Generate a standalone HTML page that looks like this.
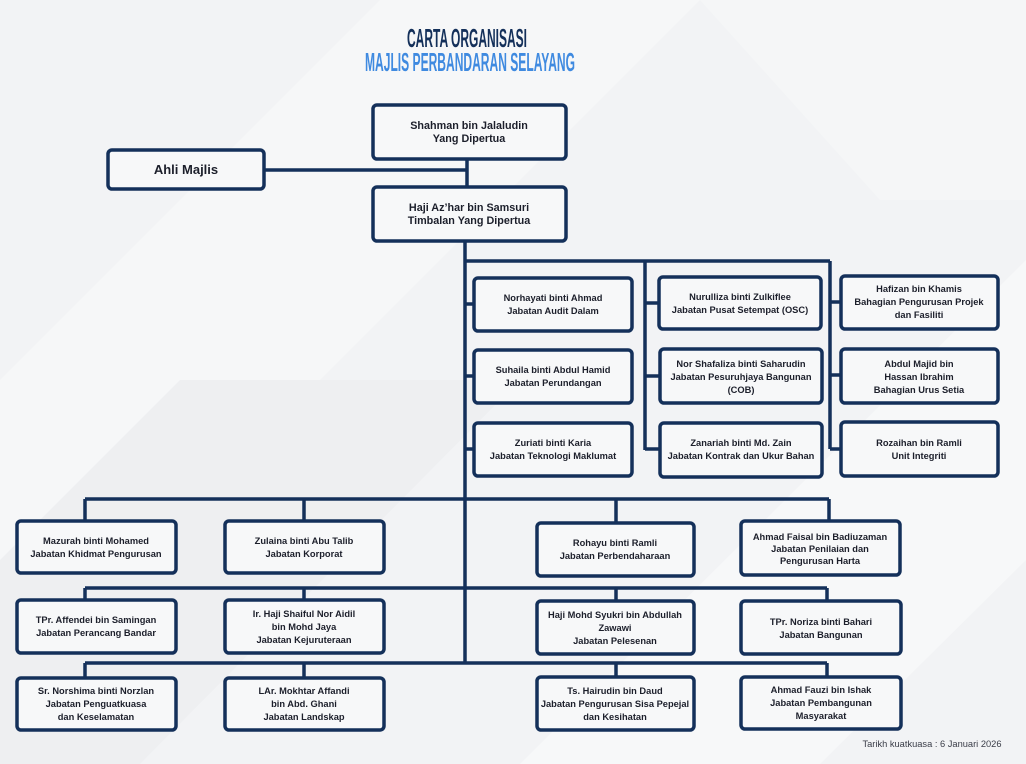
<!DOCTYPE html>
<html><head><meta charset="utf-8"><style>
html,body{margin:0;padding:0;width:1026px;height:764px;overflow:hidden;background:#f1f2f4}
svg{display:block}
text{font-family:"Liberation Sans",sans-serif;font-weight:bold;fill:#1c1f2b;text-anchor:middle}
.n{font-size:9.3px}
.b{font-size:10.8px}
rect.box{fill:#f7f8f9;stroke:#14305a;stroke-width:3.5}
.l{stroke:#14305a;stroke-width:3.5;fill:none}
</style></head><body>
<svg width="1026" height="764" viewBox="0 0 1026 764">
<rect width="1026" height="764" fill="#f2f3f5"/>
<polygon points="0,380 380,0 700,0 0,700" fill="#f6f7f8"/>
<polygon points="520,764 1026,260 1026,560 820,764" fill="#f7f8f9"/>
<polygon points="0,764 0,560 180,380 520,380 140,764" fill="#eeeff1"/>
<polygon points="700,0 1026,0 1026,200 880,200" fill="#f5f6f7"/>

<text x="467" y="47" style="font-size:26px;fill:#14305a" textLength="120" lengthAdjust="spacingAndGlyphs">CARTA ORGANISASI</text>
<text x="470" y="71" style="font-size:26px;fill:#3f8ae0" textLength="210" lengthAdjust="spacingAndGlyphs">MAJLIS PERBANDARAN SELAYANG</text>

<path class="l" d="M467 160V186 M265 170H467 M465 241V663 M465 261H830 M645 261V450 M830 261V449
M465 304H474 M465 376H474 M465 449H474 M645 303H659 M645 376H659 M645 449H659 M830 302H840 M830 375H840 M830 449H840
M85 499H829 M85 499V520 M304 499V520 M616 499V522 M829 499V520
M85 588H827 M85 588V599 M304 588V599 M616 588V600 M827 588V600
M85 663H827 M85 663V677 M304 663V677 M616 663V676 M827 663V676"/>

<rect class="box" x="373" y="105" width="193" height="54" rx="4"/>
<text class="b" x="469" y="129">Shahman bin Jalaludin</text>
<text class="b" x="469" y="142">Yang Dipertua</text>
<rect class="box" x="108" y="150" width="156" height="39" rx="4"/>
<text x="186" y="174" style="font-size:13px">Ahli Majlis</text>
<rect class="box" x="373" y="187" width="193" height="54" rx="4"/>
<text class="b" x="469" y="211">Haji Az’har bin Samsuri</text>
<text class="b" x="469" y="224">Timbalan Yang Dipertua</text>

<rect class="box" x="474" y="278" width="158" height="53" rx="4"/>
<text class="n" x="553" y="301">Norhayati binti Ahmad</text>
<text class="n" x="553" y="314">Jabatan Audit Dalam</text>
<rect class="box" x="474" y="350" width="158" height="53" rx="4"/>
<text class="n" x="553" y="373">Suhaila binti Abdul Hamid</text>
<text class="n" x="553" y="386">Jabatan Perundangan</text>
<rect class="box" x="474" y="423" width="158" height="53" rx="4"/>
<text class="n" x="553" y="446">Zuriati binti Karia</text>
<text class="n" x="553" y="459">Jabatan Teknologi Maklumat</text>

<rect class="box" x="659" y="277" width="162" height="52" rx="4"/>
<text class="n" x="740" y="300">Nurulliza binti Zulkiflee</text>
<text class="n" x="740" y="313">Jabatan Pusat Setempat (OSC)</text>
<rect class="box" x="660" y="349" width="162" height="54" rx="4"/>
<text class="n" x="741" y="367">Nor Shafaliza binti Saharudin</text>
<text class="n" x="741" y="380">Jabatan Pesuruhjaya Bangunan</text>
<text class="n" x="741" y="393">(COB)</text>
<rect class="box" x="660" y="423" width="162" height="54" rx="4"/>
<text class="n" x="741" y="446">Zanariah binti Md. Zain</text>
<text class="n" x="741" y="459">Jabatan Kontrak dan Ukur Bahan</text>

<rect class="box" x="841" y="276" width="157" height="53" rx="4"/>
<text class="n" x="919" y="292">Hafizan bin Khamis</text>
<text class="n" x="919" y="305">Bahagian Pengurusan Projek</text>
<text class="n" x="919" y="318">dan Fasiliti</text>
<rect class="box" x="841" y="349" width="157" height="54" rx="4"/>
<text class="n" x="919" y="367">Abdul Majid bin</text>
<text class="n" x="919" y="380">Hassan Ibrahim</text>
<text class="n" x="919" y="393">Bahagian Urus Setia</text>
<rect class="box" x="841" y="422" width="157" height="54" rx="4"/>
<text class="n" x="919" y="446">Rozaihan bin Ramli</text>
<text class="n" x="919" y="459">Unit Integriti</text>

<rect class="box" x="17" y="521" width="159" height="52" rx="4"/>
<text class="n" x="96" y="544">Mazurah binti Mohamed</text>
<text class="n" x="96" y="557">Jabatan Khidmat Pengurusan</text>
<rect class="box" x="225" y="521" width="159" height="52" rx="4"/>
<text class="n" x="304" y="544">Zulaina binti Abu Talib</text>
<text class="n" x="304" y="557">Jabatan Korporat</text>
<rect class="box" x="537" y="523" width="157" height="53" rx="4"/>
<text class="n" x="615" y="546">Rohayu binti Ramli</text>
<text class="n" x="615" y="559">Jabatan Perbendaharaan</text>
<rect class="box" x="741" y="521" width="159" height="54" rx="4"/>
<text class="n" x="820" y="540">Ahmad Faisal bin Badiuzaman</text>
<text class="n" x="820" y="552">Jabatan Penilaian dan</text>
<text class="n" x="820" y="564">Pengurusan Harta</text>

<rect class="box" x="17" y="600" width="159" height="53" rx="4"/>
<text class="n" x="96" y="623">TPr. Affendei bin Samingan</text>
<text class="n" x="96" y="636">Jabatan Perancang Bandar</text>
<rect class="box" x="225" y="600" width="159" height="53" rx="4"/>
<text class="n" x="304" y="617">Ir. Haji Shaiful Nor Aidil</text>
<text class="n" x="304" y="630">bin Mohd Jaya</text>
<text class="n" x="304" y="643">Jabatan Kejuruteraan</text>
<rect class="box" x="537" y="601" width="157" height="53" rx="4"/>
<text class="n" x="615" y="618">Haji Mohd Syukri bin Abdullah</text>
<text class="n" x="615" y="631">Zawawi</text>
<text class="n" x="615" y="644">Jabatan Pelesenan</text>
<rect class="box" x="741" y="601" width="160" height="53" rx="4"/>
<text class="n" x="821" y="625">TPr. Noriza binti Bahari</text>
<text class="n" x="821" y="638">Jabatan Bangunan</text>

<rect class="box" x="17" y="678" width="159" height="52" rx="4"/>
<text class="n" x="96" y="694">Sr. Norshima binti Norzlan</text>
<text class="n" x="96" y="707">Jabatan Penguatkuasa</text>
<text class="n" x="96" y="720">dan Keselamatan</text>
<rect class="box" x="225" y="678" width="159" height="52" rx="4"/>
<text class="n" x="304" y="694">LAr. Mokhtar Affandi</text>
<text class="n" x="304" y="707">bin Abd. Ghani</text>
<text class="n" x="304" y="720">Jabatan Landskap</text>
<rect class="box" x="537" y="677" width="157" height="53" rx="4"/>
<text class="n" x="615" y="694">Ts. Hairudin bin Daud</text>
<text class="n" x="615" y="707">Jabatan Pengurusan Sisa Pepejal</text>
<text class="n" x="615" y="720">dan Kesihatan</text>
<rect class="box" x="741" y="677" width="160" height="52" rx="4"/>
<text class="n" x="821" y="693">Ahmad Fauzi bin Ishak</text>
<text class="n" x="821" y="706">Jabatan Pembangunan</text>
<text class="n" x="821" y="719">Masyarakat</text>

<text x="932" y="747" style="font-size:9.3px;font-weight:normal;fill:#3a3d48">Tarikh kuatkuasa : 6 Januari 2026</text>
</svg>
</body></html>
